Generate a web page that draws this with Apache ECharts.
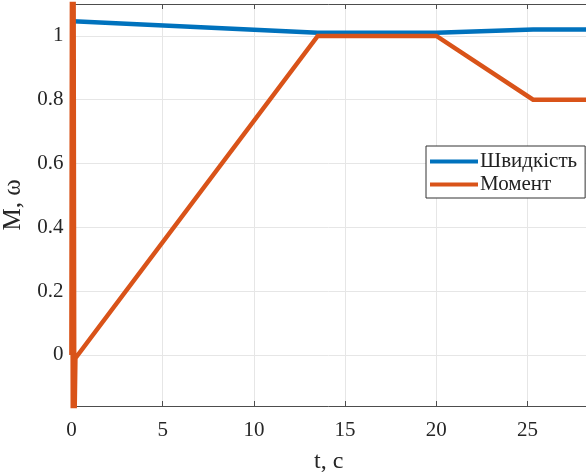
<!DOCTYPE html>
<html><head><meta charset="utf-8">
<script src="https://cdn.jsdelivr.net/npm/echarts@6/dist/echarts.min.js"></script>
<style>html,body{margin:0;padding:0;background:#fff}#c{width:586px;height:472px}</style>
</head><body><div id="c"></div>
<script>
const seriesNames = ['Швидкість', 'Момент'];
const speedT = [0.1, 13.5, 20, 25.3, 28.2];
const speedV = [1.046, 1.01, 1.01, 1.02, 1.02];
const momentT = [0, 0.03, 0.08, 0.12, 0.16, 0.22, 13.5, 20, 25.3, 28.2];
const momentV = [0, 1.2, -0.3, 1.2, -0.25, -0.01, 1.0, 1.0, 0.8, 0.8];
const xTicks = [0, 5, 10, 15, 20, 25];
const yTicks = [0, 0.2, 0.4, 0.6, 0.8, 1];
const xLabel = 't, c';
const yLabel = 'M, ω';

const zip = (a, b) => a.map((v, i) => [v, b[i]]);
const font = 'Liberation Serif';
const axisCol = '#4d4d4d';
const near = (v, arr) => arr.some(t => Math.abs(t - v) < 1e-6);

const chart = echarts.init(document.getElementById('c'));
chart.setOption({
  animation: false,
  grid: { left: 71.4, right: 0, top: 4, bottom: 66, show: false, containLabel: false, outerBoundsMode: 'none' },
  legend: {
    left: 426, top: 146, orient: 'vertical',
    itemWidth: 48, itemHeight: 4, itemGap: 2,
    padding: [5, 8, 3, 4],
    borderColor: '#333', borderWidth: 1, backgroundColor: '#fff',
    icon: 'rect',
    textStyle: { fontFamily: font, fontSize: 21, color: '#222', padding: [0, 0, 0, -3] },
    data: seriesNames
  },
  xAxis: [{
    type: 'value', min: 0, max: 28.2, interval: 5, position: 'bottom',
    axisLine: { show: true, onZero: false, lineStyle: { color: axisCol, width: 1 } },
    axisTick: { show: true, inside: true, length: 5, lineStyle: { color: axisCol } },
    axisLabel: { fontFamily: font, fontSize: 21, color: '#262626', margin: 14, showMaxLabel: false,
      formatter: v => near(v, xTicks) ? String(v) : '' },
    splitLine: { show: true, lineStyle: { color: '#e6e6e6', width: 1 } },
    name: xLabel, nameLocation: 'middle', nameGap: 44,
    nameTextStyle: { fontFamily: font, fontSize: 24, color: '#262626' }
  }, {
    type: 'value', min: 0, max: 28.2, interval: 5, position: 'top',
    axisLine: { show: true, onZero: false, lineStyle: { color: axisCol, width: 1 } },
    axisTick: { show: true, inside: true, length: 5, lineStyle: { color: axisCol } },
    axisLabel: { show: false }, splitLine: { show: false }
  }],
  yAxis: [{
    type: 'value', min: -0.16, max: 1.1, splitNumber: 6,
    axisLine: { show: true, onZero: false, lineStyle: { color: axisCol, width: 1 } },
    axisTick: { show: false },
    axisLabel: { fontFamily: font, fontSize: 21, color: '#262626', margin: 8,
      showMinLabel: false, showMaxLabel: false,
      formatter: v => near(v, yTicks) ? String(Math.round(v * 10) / 10) : '' },
    splitLine: { show: true, lineStyle: { color: '#e6e6e6', width: 1 } },
    name: yLabel, nameLocation: 'middle', nameGap: 41,
    nameTextStyle: { fontFamily: font, fontSize: 25, color: '#262626', padding: [0, 0, 0, 0] }
  }],
  series: [{
    name: seriesNames[0], type: 'line', data: zip(speedT, speedV),
    showSymbol: false, clip: true, color: '#0072BD',
    lineStyle: { width: 4.5, color: '#0072BD' }, z: 3
  }, {
    name: seriesNames[1], type: 'line', data: zip(momentT, momentV),
    showSymbol: false, clip: true, color: '#D95319',
    lineStyle: { width: 4.5, color: '#D95319', join: 'miter' }, z: 4
  }]
});
</script></body></html>
